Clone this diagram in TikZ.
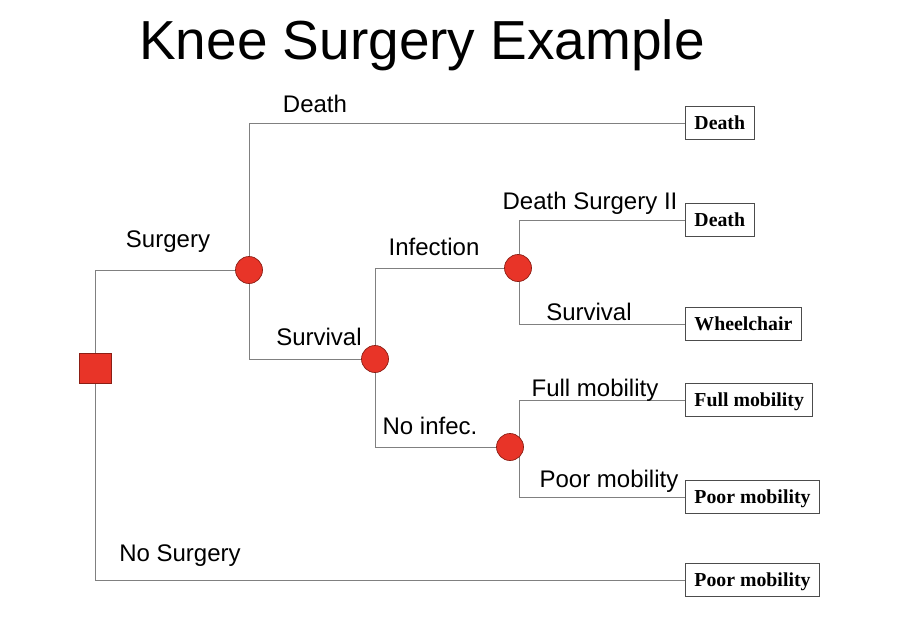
\documentclass[tikz,border=0pt]{standalone}
\usepackage{fontspec}
\setmainfont{Liberation Sans}
\newfontfamily\boxfont{Liberation Serif}
\usetikzlibrary{backgrounds}
\definecolor{nodered}{RGB}{232,52,40}
\definecolor{nodeedge}{RGB}{140,30,20}
\definecolor{linegrey}{RGB}{128,128,128}
\begin{document}
\begin{tikzpicture}[x=1pt,y=-1pt,
  chance/.style={circle,fill=nodered,draw=nodeedge,line width=0.7pt,minimum size=27pt,inner sep=0pt},
  decision/.style={rectangle,fill=nodered,draw=nodeedge,line width=0.7pt,minimum width=32pt,minimum height=30pt,inner sep=0pt},
  outcome/.style={rectangle,draw=black!70,line width=0.9pt,fill=white,anchor=west,font=\boxfont\bfseries\fontsize{19.8}{22}\selectfont,minimum height=33pt,inner xsep=9pt,inner ysep=0pt,text height=13.6pt,text depth=0.5pt},
  lbl/.style={anchor=base,font=\fontsize{24}{26}\selectfont,inner sep=0pt},
  branch/.style={draw=linegrey,line width=1pt}]
\useasboundingbox (0,0) rectangle (900,622);
\node[anchor=base,font=\fontsize{55}{60}\selectfont,inner sep=0pt] (title) at (422,59) {Knee Surgery Example};
% decision and chance nodes
\node[decision] (sq) at (95,368) {};
\node[chance] (c1) at (249,270) {};
\node[chance] (c2) at (375,359) {};
\node[chance] (c3) at (518,268) {};
\node[chance] (c4) at (510,447) {};
% outcome boxes
\node[outcome] (b1) at (685,123) {Death};
\node[outcome] (b2) at (685,220) {Death};
\node[outcome] (b3) at (685,324) {Wheelchair};
\node[outcome] (b4) at (685,400) {Full mobility};
\node[outcome] (b5) at (685,497) {Poor mobility};
\node[outcome] (b6) at (685,580) {Poor mobility};
% connectors
\begin{scope}[on background layer]
\draw[branch] (sq.center) |- (c1.center);
\draw[branch] (sq.center) |- (b6.west);
\draw[branch] (c1.center) |- (b1.west);
\draw[branch] (c1.center) |- (c2.center);
\draw[branch] (c2.center) |- (c3.center);
\draw[branch] (c2.center) |- (c4.center);
\draw[branch] ([xshift=1pt]c3.center) |- (b2.west);
\draw[branch] ([xshift=1pt]c3.center) |- (b3.west);
\draw[branch] ([xshift=9pt]c4.center) |- (b4.west);
\draw[branch] ([xshift=9pt]c4.center) |- (b5.west);
\end{scope}
% branch labels
\node[lbl] (lsurg) at (168,247) {Surgery};
\node[lbl] (ldeath) at (315,112) {Death};
\node[lbl] (lsurv) at (319,345) {Survival};
\node[lbl] (linf) at (434,255) {Infection};
\node[lbl] (lnoinf) at (430,434) {No infec.};
\node[lbl] (lds2) at (590,209) {Death Surgery II};
\node[lbl] (lsurv2) at (589,320) {Survival};
\node[lbl] (lfull) at (595,396) {Full mobility};
\node[lbl] (lpoor) at (609,487) {Poor mobility};
\node[lbl] (lnosurg) at (180,561) {No Surgery};
\end{tikzpicture}
\end{document}
